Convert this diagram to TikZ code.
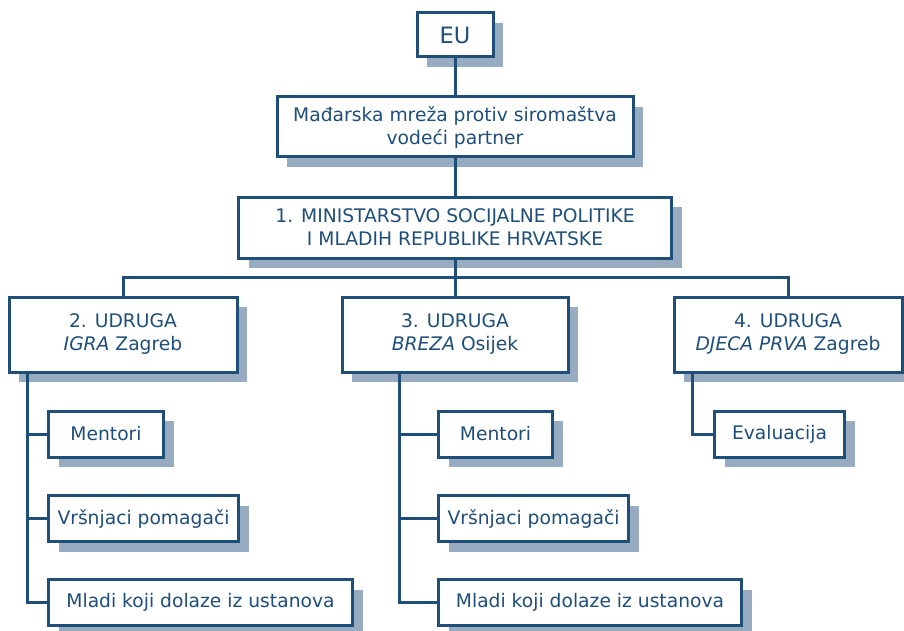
\documentclass[tikz,border=0pt]{standalone}
\usepackage{fontspec}
\setmainfont{DejaVu Sans}
\usepackage{tikz}
\usetikzlibrary{shadows}
\usepackage{xcolor}
\definecolor{plava}{HTML}{1F4E79}
\definecolor{sjena}{HTML}{97ACC0}

\tikzset{
  kutija/.style={draw=plava, line width=3pt, fill=white, text=plava, align=center, inner sep=0pt,
    font=\fontsize{18.7}{23}\selectfont,
    drop shadow={shadow xshift=10pt, shadow yshift=-10pt, fill=sjena, opacity=1}},
  clan/.style={kutija, minimum height=46pt, anchor=west},
  veza/.style={draw=plava, line width=3pt}
}

\begin{document}
\begin{tikzpicture}[x=1pt,y=-1pt]
\useasboundingbox (0,0) rectangle (904,631);

\node[kutija, minimum width=76pt, minimum height=44pt, font=\fontsize{22.5}{26}\selectfont] (eu) at (455,35) {EU};
\node[kutija, minimum width=356pt, minimum height=60pt] (mreza) at (455,127) {Mađarska mreža protiv siromaštva\\vodeći partner};
\node[kutija, minimum width=433pt, minimum height=61pt] (min) at (455,227.5) {1. MINISTARSTVO SOCIJALNE POLITIKE\\I MLADIH REPUBLIKE HRVATSKE};

\node[kutija, minimum width=228pt, minimum height=75pt] (u2) at (123,334.5) {2. UDRUGA\\\textit{IGRA} Zagreb};
\node[kutija, minimum width=226pt, minimum height=75pt] (u3) at (455,334.5) {3. UDRUGA\\\textit{BREZA} Osijek};
\node[kutija, minimum width=228pt, minimum height=75pt] (u4) at (788,334.5) {4. UDRUGA\\\textit{DJECA PRVA} Zagreb};

\node[clan, minimum width=115pt] (men2) at (47,434) {Mentori};
\node[clan, minimum width=190pt] (vrs2) at (47,518.5) {Vršnjaci pomagači};
\node[clan, minimum width=304pt] (mla2) at (47,602.5) {Mladi koji dolaze iz ustanova};

\node[clan, minimum width=114pt] (men3) at (437,434) {Mentori};
\node[clan, minimum width=190pt] (vrs3) at (437,518.5) {Vršnjaci pomagači};
\node[clan, minimum width=303pt] (mla3) at (437,602.5) {Mladi koji dolaze iz ustanova};

\node[clan, minimum width=130pt] (eval) at (713,434) {Evaluacija};

\draw[veza] (eu) -- (mreza);
\draw[veza] (mreza) -- (min);
\coordinate (bus) at (455,277);
\draw[veza] (min) -- (bus) -- (u3);
\draw[veza] (u2) |- (bus) -| (u4);

%udruga 2
\draw[veza] ([xshift=20pt]u2.south west) |- (men2);
\draw[veza] ([xshift=20pt]u2.south west) |- (vrs2);
\draw[veza] ([xshift=20pt]u2.south west) |- (mla2);
%udruga 3
\draw[veza] ([xshift=59pt]u3.south west) |- (men3);
\draw[veza] ([xshift=59pt]u3.south west) |- (vrs3);
\draw[veza] ([xshift=59pt]u3.south west) |- (mla3);
%udruga 4
\draw[veza] ([xshift=20pt]u4.south west) |- (eval);
\end{tikzpicture}
\end{document}
